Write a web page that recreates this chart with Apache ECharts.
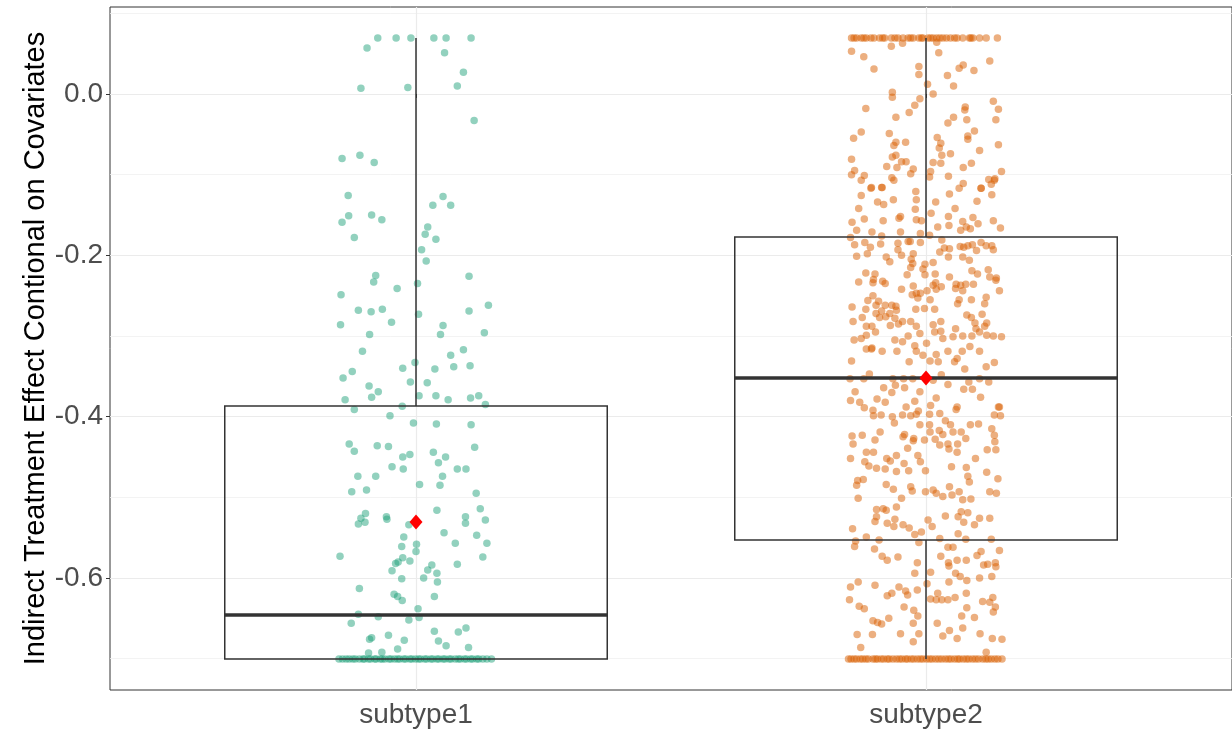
<!DOCTYPE html>
<html>
<head>
<meta charset="utf-8">
<script src="https://cdn.jsdelivr.net/npm/echarts@6/dist/echarts.min.js"></script>
<style>
  html, body { margin: 0; padding: 0; background: #fff; }
  #main { width: 1232px; height: 729px; }
</style>
</head>
<body>
<div id="main"></div>
<script>
// categories and box statistics
var categories = ['subtype1', 'subtype2'];
var whiskerLow = [-0.7003, -0.7003];
var boxLow = [-0.7003, -0.5529];
var medians = [-0.6458, -0.3521];
var boxHigh = [-0.3868, -0.1773];
var whiskerHigh = [0.0695, 0.0695];
var means = [-0.5306, -0.3521];

// axis ticks
var yMajorTicks = [-0.6, -0.4, -0.2, 0.0];
var yMinorTicks = [-0.7, -0.5, -0.3, -0.1, 0.1];

// values clamped at the ends of the range
var clampHigh = 0.0695;
var clampLow = -0.7003;

// jittered points: [offset from category centre, value]
var subtype1Top = [-0.075, -0.039, -0.010, 0.035, 0.059, 0.108];
var subtype1Bottom = [-0.151, -0.144, -0.137, -0.131, -0.124, -0.119, -0.111, -0.104, -0.101, -0.093,
  -0.089, -0.081, -0.078, -0.070, -0.066, -0.061, -0.053, -0.049, -0.042, -0.036, -0.032, -0.024,
  -0.020, -0.012, -0.008, -0.001, 0.005, 0.009, 0.017, 0.021, 0.029, 0.033, 0.041, 0.045, 0.053,
  0.057, 0.065, 0.069, 0.077, 0.083, 0.087, 0.095, 0.099, 0.107, 0.111, 0.119, 0.123, 0.131, 0.139, 0.148];
var subtype1Points = [
  [-0.096,0.057],[0.056,0.051],[0.093,0.027],[0.081,0.010],[-0.108,0.007],[-0.016,0.008],[0.114,-0.033],
  [-0.145,-0.080],[-0.110,-0.076],[-0.082,-0.085],[-0.133,-0.126],[0.053,-0.127],[0.033,-0.138],[0.068,-0.138],
  [-0.132,-0.151],[-0.145,-0.159],[-0.087,-0.150],[-0.067,-0.156],[0.023,-0.165],[0.018,-0.174],[0.039,-0.180],
  [-0.121,-0.178],[0.011,-0.193],[0.020,-0.207],[-0.079,-0.225],[-0.083,-0.233],[-0.037,-0.241],[0.003,-0.235],
  [0.104,-0.226],[-0.147,-0.249],[-0.113,-0.268],[-0.088,-0.270],[-0.066,-0.267],[-0.048,-0.283],[-0.148,-0.286],
  [0.005,-0.273],[0.104,-0.269],[0.142,-0.262],[0.053,-0.287],[0.048,-0.298],[-0.091,-0.298],[0.134,-0.296],
  [-0.105,-0.319],[0.093,-0.317],[0.068,-0.324],[-0.125,-0.344],[-0.143,-0.352],[-0.026,-0.340],[-0.002,-0.333],
  [0.037,-0.341],[0.074,-0.338],[0.106,-0.337],[-0.011,-0.357],[0.022,-0.358],[-0.092,-0.362],[-0.074,-0.369],
  [-0.087,-0.376],[-0.139,-0.379],[0.006,-0.374],[0.039,-0.374],[0.063,-0.379],[0.107,-0.377],[0.123,-0.374],
  [0.136,-0.385],[-0.121,-0.391],[-0.027,-0.387],[-0.051,-0.399],[-0.005,-0.408],[0.040,-0.409],[0.108,-0.410],
  [-0.131,-0.434],[-0.076,-0.436],[-0.054,-0.437],[0.115,-0.438],[-0.121,-0.443],[0.034,-0.444],[-0.026,-0.450],
  [-0.012,-0.447],[0.058,-0.450],[0.044,-0.457],[-0.047,-0.462],[-0.025,-0.465],[0.081,-0.465],[0.098,-0.465],
  [-0.114,-0.474],[-0.079,-0.474],[0.052,-0.474],[0.007,-0.484],[0.047,-0.485],[-0.126,-0.493],[-0.097,-0.491],
  [0.118,-0.495],[0.041,-0.516],[0.126,-0.514],[-0.099,-0.520],[-0.108,-0.526],[-0.113,-0.533],[-0.100,-0.531],
  [-0.058,-0.524],[-0.057,-0.527],[-0.014,-0.534],[0.097,-0.524],[0.097,-0.532],[0.136,-0.528],[0.055,-0.544],
  [0.119,-0.547],[-0.024,-0.549],[0.001,-0.558],[0.077,-0.557],[0.139,-0.557],[-0.028,-0.561],[0.000,-0.567],
  [-0.149,-0.573],[0.131,-0.574],[-0.026,-0.575],[-0.012,-0.579],[-0.040,-0.582],[-0.035,-0.580],[0.031,-0.584],
  [0.081,-0.583],[0.023,-0.590],[0.041,-0.594],[-0.047,-0.591],[-0.028,-0.601],[0.015,-0.600],[0.042,-0.605],
  [-0.111,-0.613],[-0.043,-0.620],[-0.036,-0.623],[-0.027,-0.628],[0.036,-0.623],[0.004,-0.638],[-0.113,-0.645],
  [-0.074,-0.648],[-0.014,-0.652],[0.006,-0.649],[-0.127,-0.656],[0.036,-0.666],[0.083,-0.667],[0.098,-0.662],
  [-0.091,-0.676],[-0.087,-0.674],[-0.054,-0.671],[-0.023,-0.677],[0.044,-0.678],[0.059,-0.684],[0.103,-0.686],
  [-0.036,-0.688],[-0.093,-0.693],[-0.067,-0.692]
];

var subtype2Top = [-0.146, -0.141, -0.136, -0.127, -0.122, -0.117, -0.108, -0.102, -0.091, -0.085, -0.081,
  -0.068, -0.061, -0.055, -0.045, -0.035, -0.030, -0.025, -0.014, -0.009, -0.006, 0.004, 0.009, 0.014,
  0.021, 0.027, 0.033, 0.040, 0.048, 0.056, 0.061, 0.072, 0.085, 0.088, 0.092, 0.105, 0.118, 0.140];
var subtype2Bottom = [-0.152, -0.147, -0.141, -0.136, -0.129, -0.124, -0.118, -0.113, -0.104, -0.099,
  -0.095, -0.088, -0.083, -0.076, -0.072, -0.065, -0.058, -0.052, -0.047, -0.040, -0.036, -0.029,
  -0.024, -0.017, -0.011, -0.006, 0.001, 0.007, 0.012, 0.019, 0.025, 0.031, 0.038, 0.044, 0.049,
  0.056, 0.062, 0.066, 0.073, 0.079, 0.084, 0.091, 0.097, 0.103, 0.111, 0.117, 0.122, 0.128, 0.135, 0.141, 0.149];
var subtype2Points = [
  [-0.146,0.053],[-0.122,0.046],[-0.068,0.059],[-0.046,0.063],[0.025,0.051],[0.021,0.064],[-0.102,0.031],
  [-0.014,0.034],[-0.014,0.024],[0.003,0.012],[0.042,0.023],[0.065,0.032],[0.073,0.036],[0.094,0.029],
  [0.125,0.041],[0.054,0.010],[-0.066,0.002],[-0.066,-0.004],[0.014,0.000],[-0.012,-0.006],[-0.022,-0.014],
  [-0.033,-0.023],[-0.118,-0.018],[-0.059,-0.029],[0.132,-0.009],[0.142,-0.019],[0.077,-0.016],[0.076,-0.020],
  [0.054,-0.029],[0.043,-0.036],[0.080,-0.032],[0.137,-0.032],[-0.127,-0.047],[-0.142,-0.055],[-0.072,-0.049],
  [-0.059,-0.060],[-0.040,-0.060],[-0.063,-0.064],[0.022,-0.054],[0.029,-0.061],[0.026,-0.067],[0.082,-0.052],
  [0.095,-0.046],[0.082,-0.056],[0.142,-0.063],[0.105,-0.070],[-0.146,-0.081],[-0.066,-0.078],[-0.059,-0.076],
  [0.031,-0.076],[0.048,-0.074],[-0.048,-0.084],[-0.039,-0.084],[0.014,-0.085],[0.029,-0.086],[0.089,-0.086],
  [0.073,-0.091],[-0.077,-0.090],[-0.057,-0.091],[-0.025,-0.093],[-0.140,-0.095],[-0.146,-0.100],[-0.121,-0.101],
  [-0.067,-0.104],[-0.063,-0.107],[-0.030,-0.099],[0.009,-0.096],[0.007,-0.103],[0.044,-0.102],[0.148,-0.096],
  [0.123,-0.106],[0.134,-0.107],[0.135,-0.105],[-0.127,-0.107],[-0.107,-0.116],[-0.086,-0.116],[0.073,-0.111],
  [0.108,-0.117],[0.128,-0.112],
  [-0.127,-0.126],[-0.108,-0.117],[-0.087,-0.116],[-0.020,-0.121],[-0.019,-0.131],[-0.095,-0.134],[-0.083,-0.137],
  [-0.064,-0.131],[-0.132,-0.142],[-0.121,-0.155],[-0.145,-0.159],[-0.084,-0.157],[-0.053,-0.154],[-0.050,-0.152],
  [-0.021,-0.143],[-0.019,-0.156],[-0.009,-0.157],[-0.136,-0.169],[-0.106,-0.171],[-0.148,-0.178],[-0.087,-0.176],
  [-0.050,-0.171],[-0.011,-0.173],[-0.031,-0.183],[0.010,-0.148],[0.019,-0.134],[0.046,-0.124],[0.065,-0.117],
  [0.100,-0.133],[0.108,-0.117],[0.129,-0.125],[0.057,-0.142],[0.044,-0.152],[0.045,-0.163],[0.023,-0.165],
  [0.072,-0.158],[0.092,-0.153],[0.102,-0.161],[0.079,-0.165],[0.068,-0.169],[0.087,-0.167],[0.132,-0.157],
  [0.146,-0.166],[0.007,-0.175],[-0.140,-0.187],[-0.120,-0.184],[-0.109,-0.190],[-0.089,-0.186],[-0.055,-0.185],
  [-0.035,-0.183],[-0.011,-0.184],[-0.055,-0.193],[-0.136,-0.201],[-0.115,-0.198],[-0.078,-0.202],[-0.048,-0.200],
  [-0.025,-0.198],[-0.029,-0.205],[-0.071,-0.208],[-0.026,-0.210],[-0.030,-0.215],[-0.002,-0.211],[0.031,-0.181],
  [0.036,-0.191],[0.067,-0.189],[0.074,-0.190],[0.082,-0.188],[0.091,-0.187],[0.108,-0.184],[0.118,-0.188],
  [0.129,-0.188],[0.132,-0.193],[0.099,-0.194],[0.046,-0.192],[0.027,-0.196],[0.044,-0.202],[0.072,-0.202],
  [0.085,-0.206],[0.014,-0.209],[-0.118,-0.222],[-0.100,-0.223],[-0.103,-0.230],[-0.104,-0.234],[-0.132,-0.233],
  [-0.085,-0.232],[-0.080,-0.235],[-0.037,-0.224],[-0.006,-0.217],[-0.002,-0.224],[0.018,-0.223],[0.019,-0.234],
  [0.046,-0.227],[0.090,-0.219],[0.101,-0.223],[0.122,-0.218],[0.125,-0.227],[0.138,-0.228],[0.137,-0.231],
  [0.059,-0.236],[0.068,-0.237],[0.078,-0.236],[0.093,-0.236],[0.058,-0.241],[0.072,-0.244],[0.144,-0.244],
  [-0.048,-0.242],[-0.025,-0.238],[-0.019,-0.247],[-0.011,-0.247],[0.002,-0.244],[0.014,-0.237],[0.020,-0.242],
  [0.030,-0.239],[0.008,-0.255],[-0.016,-0.253],[-0.027,-0.249],[-0.104,-0.250],[-0.114,-0.256],[-0.098,-0.262],
  [-0.118,-0.267],[-0.145,-0.264],[-0.093,-0.257],[-0.080,-0.262],[-0.067,-0.262],[-0.059,-0.263],[-0.087,-0.269],
  [-0.098,-0.272],[-0.071,-0.272],[-0.058,-0.268],[-0.020,-0.267],[-0.003,-0.266],[0.017,-0.267],[0.065,-0.255],
  [0.062,-0.260],[0.089,-0.255],[0.115,-0.260],[0.118,-0.252],[0.110,-0.273],[0.080,-0.274],[0.089,-0.277],
  [-0.143,-0.282],[-0.125,-0.277],[-0.091,-0.277],[-0.079,-0.276],[-0.061,-0.278],[-0.046,-0.282],[-0.030,-0.282],
  [-0.019,-0.288],[-0.117,-0.288],[-0.106,-0.288],[-0.070,-0.287],[-0.054,-0.285],[0.014,-0.286],[0.017,-0.295],
  [0.029,-0.282],[0.029,-0.294],[0.058,-0.291],[0.096,-0.284],[0.098,-0.291],[0.105,-0.295],[0.115,-0.288],
  [0.119,-0.284],[0.119,-0.299],[0.132,-0.300],[0.148,-0.301],[0.090,-0.300],[0.072,-0.300],[0.053,-0.301],
  [0.033,-0.303],[-0.117,-0.299],[-0.099,-0.295],[-0.127,-0.303],[-0.141,-0.305],[-0.061,-0.305],[-0.046,-0.307],
  [-0.035,-0.300],[-0.012,-0.297],[0.001,-0.309],[-0.022,-0.312],[-0.106,-0.315],
  [-0.146,-0.331],[-0.117,-0.316],[-0.107,-0.316],[-0.086,-0.319],[-0.057,-0.319],[-0.033,-0.332],[-0.019,-0.319],
  [-0.006,-0.324],[0.008,-0.331],[0.020,-0.323],[0.024,-0.332],[0.043,-0.319],[0.056,-0.332],[0.061,-0.328],
  [0.071,-0.319],[0.086,-0.313],[0.105,-0.319],[0.076,-0.341],[0.118,-0.338],[0.134,-0.333],[-0.149,-0.353],
  [-0.122,-0.353],[-0.111,-0.347],[-0.065,-0.353],[-0.044,-0.353],[-0.026,-0.353],[0.014,-0.355],[0.030,-0.348],
  [0.043,-0.360],[0.084,-0.357],[0.105,-0.353],[0.123,-0.357],[-0.083,-0.364],[-0.060,-0.361],[-0.042,-0.364],
  [-0.067,-0.370],[-0.139,-0.369],[-0.096,-0.378],[-0.080,-0.382],[-0.039,-0.388],[-0.022,-0.381],[-0.012,-0.369],
  [0.020,-0.377],[0.009,-0.386],[0.074,-0.366],[0.091,-0.366],[0.107,-0.376],[0.061,-0.388],[0.059,-0.391],
  [0.144,-0.388],[-0.148,-0.380],[-0.130,-0.382],[-0.121,-0.389],[-0.104,-0.392],[-0.088,-0.398],[-0.103,-0.399],
  [-0.066,-0.400],[-0.046,-0.398],[-0.030,-0.399],[-0.019,-0.397],[-0.015,-0.393],[0.007,-0.397],[0.027,-0.396],
  [0.048,-0.410],[0.038,-0.405],[0.087,-0.410],[0.103,-0.409],[0.134,-0.398],[0.146,-0.399],[0.142,-0.388],
  [-0.145,-0.424],[-0.125,-0.423],[-0.143,-0.434],[-0.100,-0.429],[-0.090,-0.419],[-0.062,-0.408],[-0.045,-0.425],
  [-0.042,-0.422],[-0.025,-0.430],[-0.024,-0.427],[-0.012,-0.410],[0.007,-0.410],[0.008,-0.419],[0.026,-0.417],
  [0.033,-0.422],[0.053,-0.419],[0.069,-0.419],[0.078,-0.427],[0.129,-0.415],[0.134,-0.423],[0.135,-0.431],
  [-0.003,-0.429],[0.018,-0.428],[0.027,-0.435],[0.043,-0.434],[0.062,-0.434],[0.045,-0.440],[0.061,-0.444],
  [0.120,-0.441],[0.137,-0.441],[0.097,-0.452],[-0.148,-0.452],[-0.117,-0.444],[-0.103,-0.444],[-0.120,-0.456],
  [-0.112,-0.461],[-0.077,-0.452],[-0.070,-0.455],[-0.058,-0.448],[-0.036,-0.439],[-0.016,-0.448],[-0.011,-0.456],
  [-0.043,-0.458],[-0.097,-0.464],[-0.080,-0.465],[-0.058,-0.468],[-0.034,-0.467],[-0.001,-0.467],[0.050,-0.462],
  [0.079,-0.463],[0.119,-0.469],[0.082,-0.474],[0.085,-0.481],[0.141,-0.477],[-0.134,-0.479],[-0.123,-0.478],
  [-0.136,-0.485],[-0.078,-0.484],[-0.064,-0.490],[-0.030,-0.487],[-0.027,-0.492],[-0.001,-0.493],[0.014,-0.491],
  [0.020,-0.495],[0.046,-0.487],[0.065,-0.493],[0.072,-0.503],[0.125,-0.493],[0.138,-0.495],[-0.133,-0.501],
  [-0.048,-0.501],[-0.084,-0.514],[0.033,-0.499],[0.051,-0.497],[0.088,-0.502],
  [-0.097,-0.515],[-0.078,-0.516],[-0.058,-0.512],[-0.097,-0.524],[-0.100,-0.530],[-0.076,-0.532],[-0.061,-0.527],
  [-0.144,-0.539],[-0.117,-0.549],[-0.092,-0.553],[-0.063,-0.536],[-0.045,-0.534],[-0.033,-0.538],[-0.022,-0.546],
  [-0.009,-0.543],[0.004,-0.528],[0.012,-0.536],[0.038,-0.523],[0.063,-0.524],[0.069,-0.518],[0.082,-0.519],
  [0.074,-0.531],[0.105,-0.526],[0.125,-0.526],[0.095,-0.534],[0.027,-0.551],[0.063,-0.545],[0.078,-0.552],
  [0.128,-0.552],[-0.140,-0.561],[-0.138,-0.554],[-0.101,-0.564],[-0.014,-0.556],[-0.086,-0.573],[-0.076,-0.578],
  [-0.055,-0.574],[-0.017,-0.581],[-0.022,-0.594],[0.009,-0.593],[0.029,-0.573],[0.043,-0.562],[0.053,-0.562],
  [0.044,-0.581],[0.045,-0.585],[0.061,-0.578],[0.079,-0.578],[0.100,-0.572],[0.108,-0.567],[0.113,-0.584],
  [0.121,-0.583],[0.137,-0.586],[0.136,-0.581],[0.144,-0.566],[0.058,-0.594],[0.067,-0.598],[0.080,-0.603],
  [0.105,-0.600],[0.129,-0.598],[0.045,-0.605],[0.002,-0.607],[-0.148,-0.611],[-0.133,-0.605],[-0.100,-0.609],
  [-0.053,-0.611],[-0.040,-0.616],[-0.017,-0.615],[-0.036,-0.621],[-0.076,-0.622],[-0.067,-0.619],[-0.150,-0.627],
  [0.023,-0.619],[0.009,-0.626],[0.020,-0.627],[0.031,-0.627],[0.043,-0.627],[0.057,-0.624],[0.079,-0.619],
  [0.111,-0.629],[0.125,-0.630],[0.131,-0.624],[0.136,-0.636],[0.132,-0.642],[-0.131,-0.635],[-0.121,-0.638],
  [-0.043,-0.636],[-0.024,-0.640],[-0.016,-0.647],[-0.073,-0.650],[-0.104,-0.653],[-0.095,-0.655],[-0.087,-0.657],
  [-0.025,-0.656],[0.022,-0.656],[0.070,-0.647],[0.080,-0.637],[0.095,-0.649],[0.072,-0.662],[0.046,-0.665],
  [-0.135,-0.670],[-0.105,-0.670],[-0.050,-0.669],[-0.014,-0.669],[-0.025,-0.679],[0.033,-0.672],[0.061,-0.675],
  [0.106,-0.669],[0.130,-0.675],[0.149,-0.676],[-0.128,-0.686],[0.118,-0.692]
];

// build [x, y] data for the scatter series
function buildPoints(centre, top, bottom, pts) {
  var out = [];
  top.forEach(function (o) { out.push([centre + o, clampHigh]); });
  pts.forEach(function (p) { out.push([centre + p[0], p[1]]); });
  bottom.forEach(function (o) { out.push([centre + o, clampLow]); });
  return out;
}

var boxData = categories.map(function (c, i) {
  return [i + 1, whiskerLow[i], boxLow[i], medians[i], boxHigh[i], whiskerHigh[i]];
});
var meanData = categories.map(function (c, i) { return [i + 1, means[i]]; });

var boxHalfWidth = 0.375;
var lineColor = '#333333';

function renderBox(params, api) {
  var x = api.value(0);
  var pLow = api.coord([x, api.value(1)]);
  var pQ1 = api.coord([x, api.value(2)]);
  var pMed = api.coord([x, api.value(3)]);
  var pQ3 = api.coord([x, api.value(4)]);
  var pHigh = api.coord([x, api.value(5)]);
  var left = api.coord([x - boxHalfWidth, api.value(3)])[0];
  var right = api.coord([x + boxHalfWidth, api.value(3)])[0];
  var thin = { stroke: lineColor, lineWidth: 1.5, fill: null };
  return {
    type: 'group',
    children: [
      { type: 'line', shape: { x1: pHigh[0], y1: pHigh[1], x2: pQ3[0], y2: pQ3[1] }, style: thin },
      { type: 'line', shape: { x1: pQ1[0], y1: pQ1[1], x2: pLow[0], y2: pLow[1] }, style: thin },
      { type: 'rect', shape: { x: left, y: pQ3[1], width: right - left, height: pQ1[1] - pQ3[1] }, style: thin },
      { type: 'line', shape: { x1: left, y1: pMed[1], x2: right, y2: pMed[1] }, style: { stroke: lineColor, lineWidth: 3.5 } }
    ]
  };
}

var chart = echarts.init(document.getElementById('main'));
var fontFamily = 'Liberation Sans, Arial, sans-serif';

chart.setOption({
  animation: false,
  grid: {
    left: 110, top: 7, bottom: 39, width: 1126,
    show: true, borderColor: '#333333', borderWidth: 1, backgroundColor: '#ffffff'
  },
  xAxis: {
    type: 'value', min: 0.4, max: 2.6,
    axisLine: { show: false },
    axisTick: { show: true, length: 4, customValues: [1, 2], lineStyle: { color: '#333333', width: 1 } },
    axisLabel: {
      customValues: [1, 2],
      formatter: function (v) { return categories[Math.round(v) - 1]; },
      color: '#4d4d4d', fontSize: 28, fontFamily: fontFamily, margin: 11
    },
    splitLine: { show: true, lineStyle: { color: '#ebebeb', width: 1.2 } }
  },
  yAxis: [{
    type: 'value', min: -0.7388, max: 0.1078,
    name: 'Indirect Treatment Effect Contional on Covariates',
    nameLocation: 'middle', nameGap: 60, nameRotate: 90, nameMoveOverlap: false,
    nameTextStyle: { color: '#000000', fontSize: 29, fontFamily: fontFamily },
    axisLine: { show: false },
    axisTick: { show: true, length: 4, customValues: yMajorTicks, lineStyle: { color: '#333333', width: 1 } },
    axisLabel: {
      customValues: yMajorTicks,
      formatter: function (v) { return v.toFixed(1); },
      color: '#4d4d4d', fontSize: 28, fontFamily: fontFamily, margin: 7
    },
    splitLine: { show: true, lineStyle: { color: '#ebebeb', width: 1.2 } }
  }, {
    type: 'value', min: -0.7388, max: 0.1078, position: 'left',
    axisLine: { show: false },
    axisTick: { show: false, customValues: yMinorTicks },
    axisLabel: { show: false, customValues: yMinorTicks },
    splitLine: { show: true, lineStyle: { color: '#f0f0f0', width: 0.8 } }
  }],
  series: [{
    name: 'subtype1', type: 'scatter', symbolSize: 7.5,
    itemStyle: { color: '#1b9e77', opacity: 0.48 },
    data: buildPoints(1, subtype1Top, subtype1Bottom, subtype1Points), z: 2
  }, {
    name: 'subtype2', type: 'scatter', symbolSize: 7.5,
    itemStyle: { color: '#d95f02', opacity: 0.5 },
    data: buildPoints(2, subtype2Top, subtype2Bottom, subtype2Points), z: 2
  }, {
    name: 'box', type: 'custom', renderItem: renderBox,
    encode: { x: 0, y: [1, 2, 3, 4, 5] },
    data: boxData, z: 3, silent: true
  }, {
    name: 'mean', type: 'scatter', symbol: 'diamond', symbolSize: [13, 15],
    itemStyle: { color: '#ff0000', opacity: 1 },
    data: meanData, z: 4
  }]
});
</script>
</body>
</html>
